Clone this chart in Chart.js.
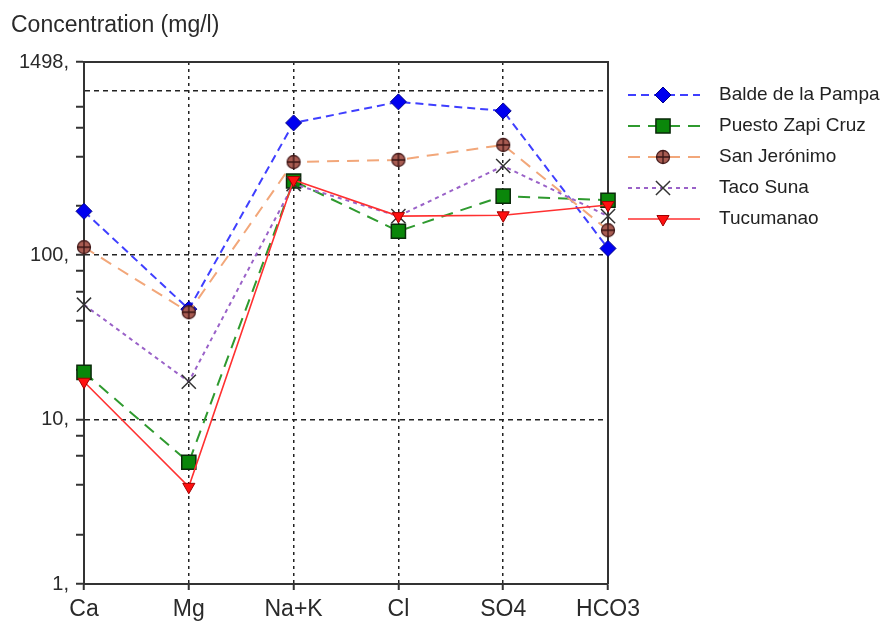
<!DOCTYPE html>
<html><head><meta charset="utf-8">
<script src="https://cdn.jsdelivr.net/npm/chart.js@4/dist/chart.umd.min.js"></script>
<style>html,body{margin:0;padding:0;background:#fff;} canvas{display:block;}</style>
</head><body>
<canvas id="c" width="888" height="621"></canvas>
<script>
const titleText = 'Concentration (mg/l)';
const ions = ['Ca', 'Mg', 'Na+K', 'Cl', 'SO4', 'HCO3'];
const seriesNames = ['Balde de la Pampa', 'Puesto Zapi Cruz', 'San Jerónimo', 'Taco Suna', 'Tucumanao'];
const baldeDeLaPampa = [185, 47, 638, 857, 755, 110];
const puestoZapiCruz = [19.4, 5.5, 283, 140, 229, 216];
const sanJeronimo   = [112, 45, 369, 380, 469, 142];
const tacoSuna      = [50, 17, 271, 173, 349, 173];
const tucumanao     = [17, 3.9, 287, 173, 175, 202];
const yMin = 1, yMax = 1498;
const yTickValues = [1, 2, 4, 6, 8, 10, 20, 40, 60, 80, 100, 200, 400, 600, 800, 1000, 1498];
const yTickLabels = ['1,', '', '', '', '', '10,', '', '', '', '', '100,', '', '', '', '', '', '1498,'];
const yGridValues = [10, 100, 1000];

const FONT = '"Liberation Sans", Arial, sans-serif';

function crossedCircle() {
  const c = document.createElement('canvas'); c.width = 16; c.height = 16;
  const g = c.getContext('2d');
  g.beginPath(); g.arc(8, 8, 6.5, 0, Math.PI * 2);
  g.fillStyle = '#a85c52'; g.fill();
  g.lineWidth = 1.3; g.strokeStyle = '#4a1f1f'; g.stroke();
  g.beginPath(); g.moveTo(8, 1); g.lineTo(8, 15); g.moveTo(1, 8); g.lineTo(15, 8);
  g.strokeStyle = '#3a1515'; g.lineWidth = 1.3; g.stroke();
  return c;
}
const sanImg = crossedCircle();

const datasets = [
  { label: seriesNames[0], data: baldeDeLaPampa, borderColor: '#3f3fff', borderWidth: 2, borderDash: [8, 5],
    pointStyle: 'rectRot', pointRadius: 8, pointBackgroundColor: '#0000f0', pointBorderColor: '#00008b', pointBorderWidth: 1, order: 5 },
  { label: seriesNames[1], data: puestoZapiCruz, borderColor: '#2f9a2f', borderWidth: 2, borderDash: [12, 8],
    pointStyle: 'rect', pointRadius: 10, pointBackgroundColor: '#0a870a', pointBorderColor: '#0a2a0a', pointBorderWidth: 1.5, order: 4 },
  { label: seriesNames[2], data: sanJeronimo, borderColor: '#f2a77a', borderWidth: 2, borderDash: [12, 8],
    pointStyle: sanImg, pointRadius: 7, pointBackgroundColor: '#a85c52', pointBorderColor: '#4a1f1f', pointBorderWidth: 1, order: 3 },
  { label: seriesNames[3], data: tacoSuna, borderColor: '#9a62c8', borderWidth: 2, borderDash: [4, 4],
    pointStyle: 'crossRot', pointRadius: 10, pointBackgroundColor: '#333', pointBorderColor: '#333', pointBorderWidth: 1.5, order: 2 },
  { label: seriesNames[4], data: tucumanao, borderColor: '#ff3030', borderWidth: 1.6, borderDash: [],
    pointStyle: 'triangle', pointRotation: 180, pointRadius: 7, pointBackgroundColor: '#ff1010', pointBorderColor: '#a00000', pointBorderWidth: 1, order: 1 }
];

const decor = {
  id: 'decor',
  beforeDatasetsDraw(chart) {
    const { ctx, chartArea: a } = chart;
    ctx.save();
    ctx.strokeStyle = '#333'; ctx.lineWidth = 2; ctx.setLineDash([]);
    ctx.beginPath(); ctx.moveTo(a.left, a.top); ctx.lineTo(a.right, a.top); ctx.lineTo(a.right, a.bottom); ctx.stroke();
    ctx.restore();
  },
  afterDraw(chart) {
    const { ctx } = chart;
    ctx.save();
    ctx.fillStyle = '#2a2a2a'; ctx.font = '23px ' + FONT; ctx.textBaseline = 'alphabetic'; ctx.textAlign = 'left';
    ctx.fillText(titleText, 11, 32);
    chart.data.datasets.forEach((ds, i) => {
      const y = 95 + i * 31;
      ctx.save();
      ctx.strokeStyle = ds.borderColor; ctx.lineWidth = ds.borderWidth; ctx.setLineDash(ds.borderDash || []);
      ctx.beginPath(); ctx.moveTo(628, y); ctx.lineTo(700, y); ctx.stroke();
      ctx.setLineDash([]);
      ctx.fillStyle = ds.pointBackgroundColor; ctx.strokeStyle = ds.pointBorderColor; ctx.lineWidth = ds.pointBorderWidth;
      Chart.helpers.drawPoint(ctx, { pointStyle: ds.pointStyle, radius: ds.pointRadius, rotation: ds.pointRotation || 0, borderWidth: ds.pointBorderWidth }, 663, y);
      ctx.restore();
      ctx.fillStyle = '#222'; ctx.font = '19px ' + FONT; ctx.textBaseline = 'middle';
      ctx.fillText(ds.label, 719, y);
    });
    ctx.restore();
  }
};

new Chart(document.getElementById('c'), {
  type: 'line',
  data: { labels: ions, datasets },
  options: {
    responsive: false, animation: false, devicePixelRatio: 1,
    layout: { padding: { top: 62, right: 280, left: 0, bottom: 0 } },
    plugins: { legend: { display: false }, tooltip: { enabled: false }, title: { display: false } },
    elements: { line: { tension: 0, fill: false } },
    scales: {
      x: {
        type: 'category', offset: false,
        grid: {
          color: (c) => (c.index === 0 || c.index === ions.length - 1) ? 'rgba(0,0,0,0)' : '#222',
          lineWidth: 1.5, tickColor: '#333', tickLength: 6, tickWidth: 2
        },
        border: { color: '#333', width: 2, dash: [3, 4] },
        ticks: { color: '#2a2a2a', font: { size: 23, family: FONT }, padding: 6, maxRotation: 0, autoSkip: false },
        afterFit(s) { s.height = 37; }
      },
      y: {
        type: 'logarithmic', min: yMin, max: yMax,
        afterBuildTicks(s) { s.ticks = yTickValues.map(v => ({ value: v })); },
        grid: {
          color: (c) => (c.tick && yGridValues.includes(c.tick.value)) ? '#222' : 'rgba(0,0,0,0)',
          lineWidth: 1.5,
          tickColor: (c) => (c.tick && c.tick.value === 1000) ? 'rgba(0,0,0,0)' : '#333',
          tickLength: 8, tickWidth: 2
        },
        border: { color: '#333', width: 2, dash: [5, 4] },
        ticks: { callback: (v, i) => yTickLabels[i], autoSkip: false, color: '#2a2a2a', font: { size: 20, family: FONT }, padding: 7 },
        afterFit(s) { s.width = 84; }
      }
    }
  },
  plugins: [decor]
});
</script>
</body></html>
